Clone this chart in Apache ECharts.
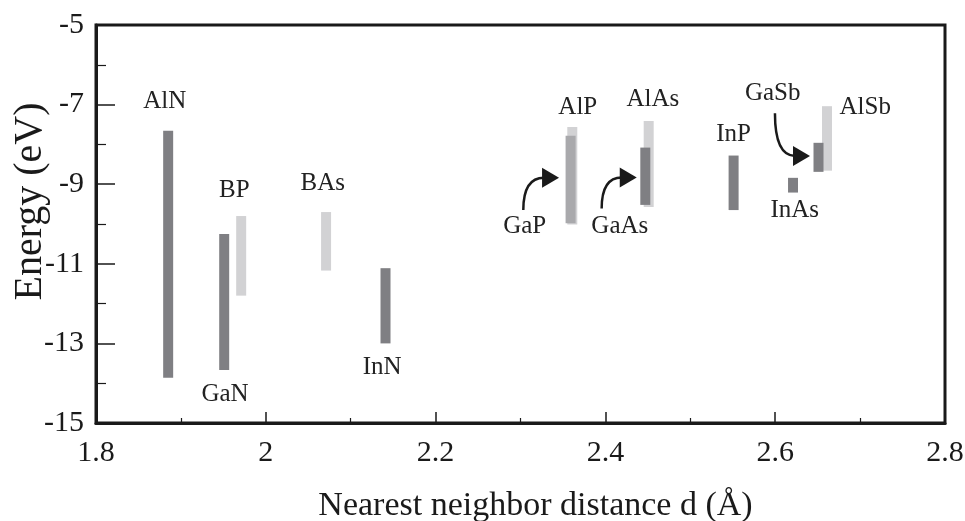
<!DOCTYPE html>
<html><head><meta charset="utf-8">
<script src="https://cdn.jsdelivr.net/npm/echarts@6/dist/echarts.min.js"></script>
<style>html,body{margin:0;padding:0;background:#fff}#c{width:965px;height:521px}</style>
</head><body><div id="c"></div>
<script>
// ---- data ----
const materials    = ['AlN','GaN','BP','BAs','InN','AlP','GaP','AlAs','GaAs','InP','InAs','AlSb','GaSb'];
const distance     = [1.885,1.951,1.971,2.071,2.141,2.361,2.359,2.451,2.447,2.551,2.621,2.661,2.651];
const energyTop    = [-7.66,-10.25,-9.80,-9.70,-11.11,-7.56,-7.78,-7.41,-8.08,-8.28,-8.84,-7.04,-7.96];
const energyBottom = [-13.86,-13.67,-11.80,-11.17,-13.00,-10.01,-9.98,-9.57,-9.52,-9.65,-9.21,-8.66,-8.69];

const labelText = ['AlN','GaN','BP','BAs','InN','AlP','GaP','AlAs','GaAs','InP','InAs','AlSb','GaSb'];
const labelX    = [1.881,1.952,1.963,2.067,2.137,2.3675,2.305,2.456,2.417,2.551,2.623,2.706,2.597];
const labelY    = [-6.93,-14.27,-9.15,-8.99,-13.61,-7.07,-10.07,-6.87,-10.07,-7.76,-9.65,-7.07,-6.72];

const arrowFromX = [2.3033,2.3956,2.5997];
const arrowFromY = [-9.65,-9.61,-7.22];
const arrowToX   = [2.3454,2.4369,2.641];
const arrowToY   = [-8.84,-8.83,-8.29];

const xTicks = [1.8,2,2.2,2.4,2.6,2.8];
const yTicks = [-15,-13,-11,-9,-7,-5];

// ---- styles ----
const DARK = '#7f7f83', LIGHT = '#d2d2d4', MEDIUM = '#a9a9ac';
const barColor = {AlN:DARK,GaN:DARK,BP:LIGHT,BAs:LIGHT,InN:DARK,AlP:LIGHT,GaP:MEDIUM,AlAs:LIGHT,GaAs:DARK,InP:DARK,InAs:DARK,AlSb:LIGHT,GaSb:DARK};
const FONT = 'Liberation Serif';
const INK = '#1a1a1a';

const chart = echarts.init(document.getElementById('c'), null, {renderer:'canvas'});

const barData = materials.map((m,i)=>[distance[i], energyTop[i], energyBottom[i]]);
const labelData = labelText.map((t,i)=>[labelX[i], labelY[i]]);
const arrowData = arrowFromX.map((x,i)=>[x, arrowFromY[i], arrowToX[i], arrowToY[i]]);

chart.setOption({
  animation:false,
  backgroundColor:'#fff',
  grid:{left:96,right:20,top:25,bottom:98,show:true,borderColor:INK,borderWidth:3,containLabel:false,outerBoundsMode:'none'},
  xAxis:{
    type:'value',min:xTicks[0],max:xTicks[xTicks.length-1],interval:0.2,
    name:'Nearest neighbor distance d (Å)',nameLocation:'middle',nameGap:66,nameMoveOverlap:false,
    nameTextStyle:{fontFamily:FONT,fontSize:34,color:INK,padding:[0,0,0,30]},
    axisLine:{show:true,onZero:false,lineStyle:{color:INK,width:3}},
    axisTick:{show:true,inside:true,length:11,lineStyle:{color:INK,width:1.5}},
    minorTick:{show:true,splitNumber:2,length:5,lineStyle:{color:INK,width:1.2}},
    axisLabel:{fontFamily:FONT,fontSize:30,color:INK,margin:15},
    splitLine:{show:false}
  },
  yAxis:{
    type:'value',min:yTicks[0],max:yTicks[yTicks.length-1],interval:2,
    name:'Energy (eV)',nameLocation:'middle',nameGap:46,nameMoveOverlap:false,
    nameTextStyle:{fontFamily:FONT,fontSize:40,color:INK,padding:[0,0,0,45]},
    axisLine:{show:true,onZero:false,lineStyle:{color:INK,width:3}},
    axisTick:{show:true,inside:true,length:19,lineStyle:{color:INK,width:1.5}},
    minorTick:{show:true,splitNumber:2,length:10,lineStyle:{color:INK,width:1.2}},
    axisLabel:{fontFamily:FONT,fontSize:30,color:INK,margin:12},
    splitLine:{show:false}
  },
  series:[
    {
      type:'custom',silent:true,data:barData,encode:{x:0,y:[1,2]},
      renderItem:(params,api)=>{
        const x=api.value(0), hi=api.value(1), lo=api.value(2);
        const p1=api.coord([x,hi]), p2=api.coord([x,lo]);
        const w=10;
        return {type:'rect',shape:{x:p1[0]-w/2,y:p1[1],width:w,height:p2[1]-p1[1]},
          style:{fill:barColor[materials[params.dataIndex]]}};
      }
    },
    {
      type:'custom',silent:true,data:labelData,encode:{x:0,y:1},
      renderItem:(params,api)=>{
        const p=api.coord([api.value(0),api.value(1)]);
        return {type:'text',x:p[0],y:p[1],style:{text:labelText[params.dataIndex],
          fontFamily:FONT,fontSize:25,fill:'#222',align:'center',verticalAlign:'middle'}};
      }
    },
    {
      type:'custom',silent:true,data:arrowData,encode:{x:[0,2],y:[1,3]},
      renderItem:(params,api)=>{
        const s=api.coord([api.value(0),api.value(1)]);
        const t=api.coord([api.value(2),api.value(3)]);
        const c=[s[0],t[1]];
        let dx=t[0]-c[0], dy=t[1]-c[1]; const L=Math.hypot(dx,dy)||1; dx/=L; dy/=L;
        const headLen=17, halfW=10;
        const b=[t[0]-dx*headLen, t[1]-dy*headLen];
        const e=[t[0]-dx*(headLen-2), t[1]-dy*(headLen-2)];
        const nx=-dy, ny=dx;
        return {type:'group',children:[
          {type:'bezierCurve',shape:{x1:s[0],y1:s[1],x2:e[0],y2:e[1],cpx1:c[0],cpy1:c[1]},
            style:{stroke:INK,lineWidth:2.5,fill:null}},
          {type:'polygon',shape:{points:[[t[0],t[1]],[b[0]+nx*halfW,b[1]+ny*halfW],[b[0]-nx*halfW,b[1]-ny*halfW]]},
            style:{fill:INK}}
        ]};
      }
    }
  ]
});
</script></body></html>
